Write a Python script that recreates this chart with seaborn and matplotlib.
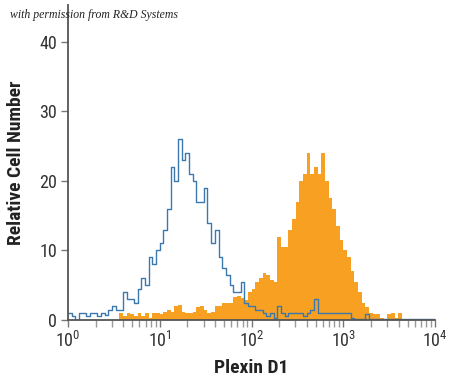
import numpy as np
import pandas as pd
import matplotlib
matplotlib.use('Agg')
import matplotlib.pyplot as plt
from matplotlib import font_manager
import seaborn as sns

# channel edges: 25 bins per decade, 10^0 .. 10^4 (log10 units)
log_edges = list(np.linspace(0, 4, 101))

# isotype control (blue outline), counts per bin
control = [1, 0.5, 0, 1, 1, 0.5, 1, 1, 0.5, 1,
           0.7, 1.5, 2, 1.5, 1.5, 4, 3, 3, 2.5, 4.5,
           6, 5, 9, 8, 10, 11, 13, 16, 22, 20,
           26, 23, 24, 21, 20, 17, 17, 19, 14, 11,
           13, 9, 7.5, 6.5, 5, 4, 4, 5.5, 2.5, 2,
           2, 1.5, 1.5, 1, 0.5, 1, 0.3, 2, 1, 0.5,
           1, 1, 1, 1, 0.5, 1, 1.5, 3, 1, 1,
           1, 1, 1, 1, 1, 1, 1, 0.3, 0.2, 0.2,
           0.2, 0.8, 0.2, 0.1, 0.1, 0.1, 0.1, 0.1, 0.1, 0.1,
           0.1, 0.1, 0.1, 0.1, 0.1, 0.1, 0.1, 0.1, 0.1, 0.1]

# Plexin D1 stained cells (orange fill)
stained = [0, 0, 0, 0, 0, 0, 0, 0, 0, 0,
           0, 0, 0, 0, 1, 0.5, 1, 0.8, 0.5, 1,
           0.5, 1, 0.3, 1, 1, 0.8, 1.2, 1.5, 1.2, 2,
           2.2, 1.2, 1, 1, 1.2, 1.8, 2, 1.5, 1, 1.2,
           2, 2, 2.5, 2.5, 2.5, 3.3, 3.5, 3.2, 2.8, 4,
           4.5, 5.5, 6, 6.8, 6.5, 5.8, 5.5, 12, 10.5, 10.5,
           13, 14.5, 17, 20, 21, 24, 21, 22, 21, 24,
           20, 17.5, 16, 13.5, 11.5, 10, 9, 7, 5.5, 4,
           2.5, 1.8, 1, 0.8, 0.8, 0.3, 0.2, 0.8, 1, 0.3,
           1, 0.2, 0, 0, 0, 0, 0, 0, 0, 0]

centers = [10 ** ((a + b) / 2) for a, b in zip(log_edges[:-1], log_edges[1:])]
df = pd.DataFrame({'signal': centers + centers,
                   'count': control + stained,
                   'sample': ['control'] * 100 + ['stained'] * 100})

sns.set_style('white')

# pick a narrow sans if one is installed
installed = {f.name for f in font_manager.fontManager.ttflist}
narrow = 'Liberation Sans'
for name in ['Liberation Sans Narrow', 'Roboto Condensed', 'Open Sans Condensed',
             'Noto Sans Condensed', 'DejaVu Sans Condensed']:
    if name in installed:
        narrow = name
        break
plt.rcParams['font.family'] = [narrow, 'DejaVu Sans']
plt.rcParams['mathtext.fontset'] = 'custom'
plt.rcParams['mathtext.rm'] = narrow

fig = plt.figure(figsize=(4.5, 3.85), dpi=100)
ax = fig.add_axes([0.151, 0.169, 0.816, 0.818])

sns.histplot(data=df[df['sample'] == 'stained'], x='signal', weights='count',
             bins=log_edges, log_scale=True, element='step', fill=True,
             color='#f7a021', alpha=1, linewidth=0, ax=ax)
sns.histplot(data=df[df['sample'] == 'control'], x='signal', weights='count',
             bins=log_edges, log_scale=True, element='step', fill=False,
             color='#3a78ae', linewidth=1.0, ax=ax)

ax.set_xlim(1, 10 ** 4)
ax.set_ylim(0, 45.3)
ax.set_xticks([1, 10, 100, 1000, 10000])
ax.set_xticklabels([r'$\mathregular{10^{%d}}$' % i for i in range(5)])
ax.set_yticks([0, 10, 20, 30, 40])
ax.tick_params(axis='both', which='major', direction='out', length=5, width=1,
               color='#777777', labelsize=13, labelcolor='#333333', pad=3)
ax.tick_params(axis='x', which='minor', direction='out', length=5, width=1,
               color='#999999', bottom=True)
ax.tick_params(axis='x', which='major', bottom=True)
ax.tick_params(axis='y', left=True)

for side in ['top', 'right']:
    ax.spines[side].set_visible(False)
for side in ['left', 'bottom']:
    ax.spines[side].set_color('#555555')
    ax.spines[side].set_linewidth(1.3)

ax.set_xlabel('Plexin D1', fontsize=14, fontweight='bold', color='#222222', labelpad=6)
ax.set_ylabel('Relative Cell Number', fontsize=14, fontweight='bold', color='#222222', labelpad=10)

fig.text(0.022, 0.952, 'with permission from R&D Systems', fontsize=8.5,
         family=['Liberation Serif', 'DejaVu Serif'], style='italic', color='#222222')

fig.savefig('out.png', dpi=100)
